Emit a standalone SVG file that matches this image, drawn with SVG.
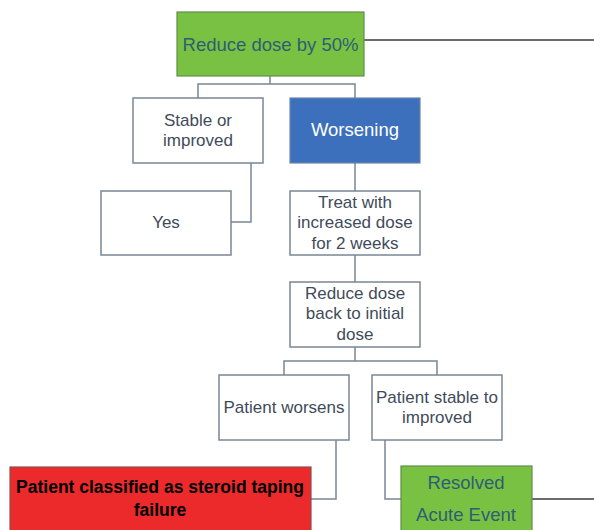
<svg xmlns="http://www.w3.org/2000/svg" width="594" height="530" viewBox="0 0 594 530">
<style>
.box{fill:#ffffff;stroke:#7a8694;stroke-width:1.5}
.green{fill:#79c142;stroke:#5f8f4a;stroke-width:1.2}
.blue{fill:#3c6fbc;stroke:#6b85a8;stroke-width:1.2}
.red{fill:#ec2a2b;stroke:#8a5050;stroke-width:1.2}
.t{font-family:"Liberation Sans",Arial,sans-serif;font-size:17px;fill:#3f4b5b;text-anchor:middle;dominant-baseline:central}
.tg{fill:#2b5f74;font-size:18.5px}
.tw{fill:#ffffff;font-size:18.5px}
.tb{fill:#000000;font-weight:bold;font-size:17.5px}
.c{fill:none;stroke:#7a8694;stroke-width:1.5}
.k{fill:none;stroke:#3a3a3a;stroke-width:1.5}
</style>
<rect width="594" height="530" fill="#ffffff"/>
<g id="connectors">
<path class="c" d="M270,76 V84 M198,98 V84 H355 V98"/>
<path class="c" d="M251,163 V222 H231"/>
<path class="c" d="M355,163 V191"/>
<path class="c" d="M355,255 V282"/>
<path class="c" d="M355,347 V361 M284,375 V361 H437 V375"/>
<path class="c" d="M336,440 V499 H311"/>
<path class="c" d="M385,440 V499 H401"/>
<path class="k" d="M364,40 H594"/>
<path class="k" d="M532,499 H594"/>
</g>
<g id="n-reduce50">
<rect class="green" x="177" y="12" width="187" height="64"/>
<text class="t tg" x="270.5" y="44">Reduce dose by 50%</text>
</g>
<g id="n-stable">
<rect class="box" x="133" y="98" width="130" height="65"/>
<text class="t" x="198" y="120">Stable or</text>
<text class="t" x="198" y="140">improved</text>
</g>
<g id="n-worsening">
<rect class="blue" x="290" y="98" width="130" height="65"/>
<text class="t tw" x="355" y="129">Worsening</text>
</g>
<g id="n-yes">
<rect class="box" x="101" y="191" width="130" height="64"/>
<text class="t" x="166" y="222">Yes</text>
</g>
<g id="n-treat">
<rect class="box" x="290" y="191" width="130" height="64"/>
<text class="t" x="355" y="202">Treat with</text>
<text class="t" x="355" y="222.5">increased dose</text>
<text class="t" x="355" y="243">for 2 weeks</text>
</g>
<g id="n-reduceback">
<rect class="box" x="290" y="282" width="130" height="65"/>
<text class="t" x="355" y="293">Reduce dose</text>
<text class="t" x="355" y="313.5">back to initial</text>
<text class="t" x="355" y="334">dose</text>
</g>
<g id="n-worsens">
<rect class="box" x="219" y="375" width="130" height="65"/>
<text class="t" x="284" y="407">Patient worsens</text>
</g>
<g id="n-stableimproved">
<rect class="box" x="372" y="375" width="130" height="65"/>
<text class="t" x="437" y="397">Patient stable to</text>
<text class="t" x="437" y="417">improved</text>
</g>
<g id="n-failure">
<rect class="red" x="10" y="467" width="301" height="70"/>
<text class="t tb" x="160" y="487">Patient classified as steroid taping</text>
<text class="t tb" x="160" y="510">failure</text>
</g>
<g id="n-resolved">
<rect class="green" x="401" y="466" width="131" height="70"/>
<text class="t tg" x="466" y="482">Resolved</text>
<text class="t tg" x="466" y="514">Acute Event</text>
</g>
</svg>
